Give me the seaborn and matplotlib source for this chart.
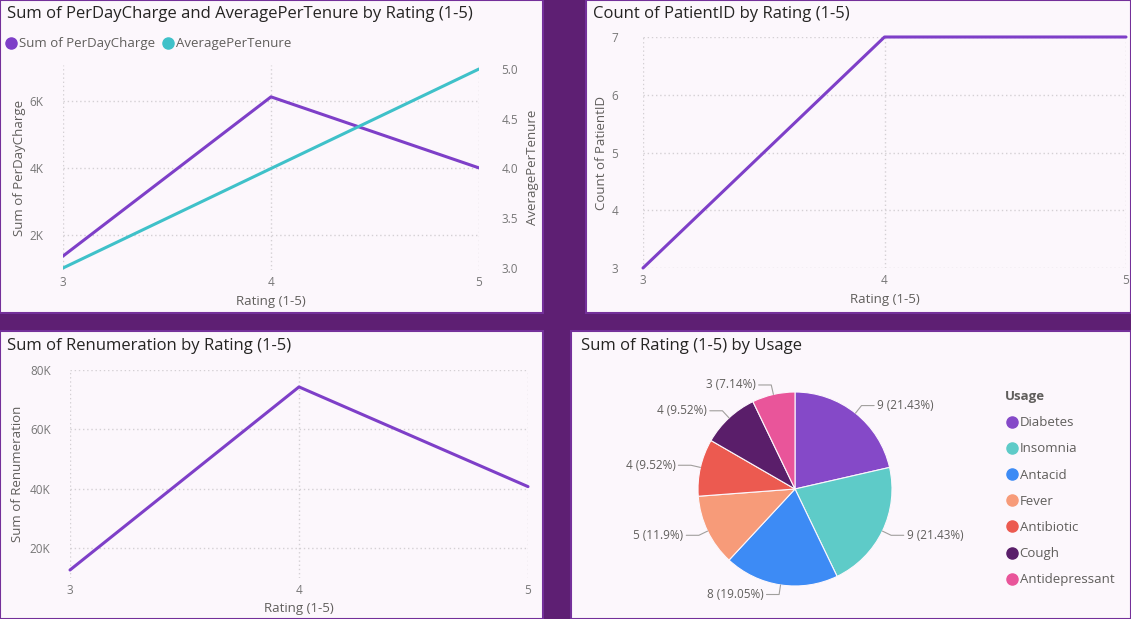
import matplotlib
matplotlib.use("Agg")
import matplotlib.pyplot as plt
import matplotlib.patches as mpatches
from matplotlib.lines import Line2D
from matplotlib.ticker import FuncFormatter
import numpy as np
import pandas as pd
import seaborn as sns

# ---- data ----
ratings = [3, 4, 5]
per_day_charge = [1370, 6120, 4000]
average_per_tenure = [3.0, 4.0, 5.0]
patient_count = [3, 7, 7]
renumeration = [12600, 74300, 40700]

usage = ["Diabetes", "Insomnia", "Antacid", "Fever", "Antibiotic", "Cough", "Antidepressant"]
rating_sum = [9, 9, 8, 5, 4, 4, 3]

# ---- style ----
W, H = 1131, 619
BG = "#5E1F73"
PANEL = "#FCF7FC"
EDGE = "#74309A"
PURPLE = "#7E3FC8"
TEAL = "#3FC1C9"
TITLE_C = "#252423"
LABEL_C = "#605E5C"
TICK_C = "#777777"
GRID_C = "#D4D0D4"
pie_colors = ["#8549C8", "#5ECBC8", "#3D8BF5", "#F79B79", "#EC5A50", "#5A1E6A", "#E9559A"]

sns.set_theme(style="white")
plt.rcParams["font.family"] = ["Open Sans", "DejaVu Sans"]

fig = plt.figure(figsize=(W / 100, H / 100), dpi=100, facecolor=BG)


def px_axes(left, top, right, bottom):
    ax = fig.add_axes([left / W, 1 - bottom / H, (right - left) / W, (bottom - top) / H])
    ax.set_facecolor("none")
    return ax


def panel(left, top, right, bottom):
    rect = mpatches.Rectangle((left / W, 1 - bottom / H), (right - left) / W, (bottom - top) / H,
                              transform=fig.transFigure, facecolor=PANEL, edgecolor=EDGE,
                              linewidth=1.5, zorder=-5)
    fig.add_artist(rect)


def fig_text(x, y, s, **kw):
    fig.text(x / W, 1 - y / H, s, **kw)


def style_axes(ax):
    sns.despine(ax=ax, left=True, bottom=True)
    ax.grid(True, linestyle=(0, (1, 2)), color=GRID_C, linewidth=1)
    ax.tick_params(length=0, labelsize=8.5, labelcolor=TICK_C)
    ax.tick_params(axis="x", pad=4)
    ax.set_xticks(ratings)
    ax.set_xlim(ratings[0], ratings[-1])
    ax.xaxis.label.set_color(LABEL_C)
    ax.yaxis.label.set_color(LABEL_C)


kfmt = FuncFormatter(lambda v, p: f"{v / 1000:.0f}K")

panel(0, 0, 543, 313)
panel(586, 0, 1131, 313)
panel(0, 331, 543, 619)
panel(571, 331, 1131, 619)

title_kw = dict(fontsize=12, color=TITLE_C, va="center", ha="left")
fig_text(7, 14, "Sum of PerDayCharge and AveragePerTenure by Rating (1-5)", **title_kw)
fig_text(593, 14, "Count of PatientID by Rating (1-5)", **title_kw)
fig_text(7, 346, "Sum of Renumeration by Rating (1-5)", **title_kw)
fig_text(581, 346, "Sum of Rating (1-5) by Usage", **title_kw)

# ---- panel 1: dual axis line ----
df1 = pd.DataFrame({"Rating (1-5)": ratings, "Sum of PerDayCharge": per_day_charge,
                    "AveragePerTenure": average_per_tenure})
ax1 = px_axes(63, 65, 479, 270)
sns.lineplot(data=df1, x="Rating (1-5)", y="Sum of PerDayCharge", ax=ax1, color=PURPLE,
             linewidth=2.2, zorder=4)
style_axes(ax1)
ax1.set_ylim(955, 7070)
ax1.set_yticks([2000, 4000, 6000])
ax1.yaxis.set_major_formatter(kfmt)
ax1.tick_params(axis="y", pad=14)
ax1.set_xlabel("Rating (1-5)", fontsize=9.5, labelpad=4.5)
ax1.set_ylabel("Sum of PerDayCharge", fontsize=9.5, labelpad=3)
ax1b = ax1.twinx()
ax1b.set_facecolor("none")
sns.lineplot(data=df1, x="Rating (1-5)", y="AveragePerTenure", ax=ax1b, color=TEAL,
             linewidth=2.2, zorder=3)
sns.despine(ax=ax1b, left=True, bottom=True, right=True)
ax1b.set_ylim(2.98, 5.04)
ax1b.set_yticks([3.0, 3.5, 4.0, 4.5, 5.0])
ax1b.yaxis.set_major_formatter(FuncFormatter(lambda v, p: f"{v:.1f}"))
ax1b.tick_params(length=0, labelsize=8.5, labelcolor=TICK_C, pad=16)
ax1b.grid(False)
ax1b.set_ylabel("AveragePerTenure", fontsize=9.5, color=LABEL_C, labelpad=6)
ax1b.set_xlim(ratings[0], ratings[-1])

leg_handles = [Line2D([], [], marker="o", linestyle="", markersize=8, color=PURPLE),
               Line2D([], [], marker="o", linestyle="", markersize=8, color=TEAL)]
fig.legend(leg_handles, ["Sum of PerDayCharge", "AveragePerTenure"], loc="center left",
           bbox_to_anchor=(3 / W, 1 - 44 / H), ncol=2, frameon=False, fontsize=9.5,
           labelcolor=LABEL_C, handletextpad=0.0, columnspacing=0.4, handlelength=1.2,
           borderaxespad=0, borderpad=0)

# ---- panel 2: patient count ----
df2 = pd.DataFrame({"Rating (1-5)": ratings, "Count of PatientID": patient_count})
ax2 = px_axes(643, 37, 1126, 268)
sns.lineplot(data=df2, x="Rating (1-5)", y="Count of PatientID", ax=ax2, color=PURPLE,
             linewidth=2.2, clip_on=False)
style_axes(ax2)
ax2.set_ylim(3, 7)
ax2.set_yticks([3, 4, 5, 6, 7])
ax2.tick_params(axis="y", pad=18)
ax2.set_xlabel("Rating (1-5)", fontsize=9.5, labelpad=5)
ax2.set_ylabel("Count of PatientID", fontsize=9.5, labelpad=2)

# ---- panel 3: renumeration ----
df3 = pd.DataFrame({"Rating (1-5)": ratings, "Sum of Renumeration": renumeration})
ax3 = px_axes(70, 370, 528, 578)
sns.lineplot(data=df3, x="Rating (1-5)", y="Sum of Renumeration", ax=ax3, color=PURPLE,
             linewidth=2.2, clip_on=False)
style_axes(ax3)
ax3.set_ylim(9900, 80000)
ax3.set_yticks([20000, 40000, 60000, 80000])
ax3.yaxis.set_major_formatter(kfmt)
ax3.tick_params(axis="y", pad=14)
ax3.set_xlabel("Rating (1-5)", fontsize=9.5, labelpad=4)
ax3.set_ylabel("Sum of Renumeration", fontsize=9.5, labelpad=4)

# ---- panel 4: pie ----
ax4 = px_axes(698, 392, 892, 586)
wedges, _ = ax4.pie(rating_sum, colors=pie_colors, startangle=90, counterclock=False,
                    wedgeprops=dict(edgecolor=PANEL, linewidth=0.8), radius=1.0)
ax4.set_xlim(-1, 1)
ax4.set_ylim(-1, 1)
total = sum(rating_sum)
for w, v in zip(wedges, rating_sum):
    ang = np.deg2rad((w.theta1 + w.theta2) / 2)
    cx, cy = np.cos(ang), np.sin(ang)
    side = 1 if cx >= 0 else -1
    p0 = (1.0 * cx, 1.0 * cy)
    p1 = (1.1 * cx, 1.1 * cy)
    p2 = (p1[0] + side * 0.13, p1[1])
    ax4.plot([p0[0], p1[0], p2[0]], [p0[1], p1[1], p2[1]], color="#A19F9D", linewidth=0.8,
             clip_on=False)
    ax4.text(p2[0] + side * 0.03, p2[1], f"{v} ({v / total * 100:.2f}%)".replace(".90%", ".9%"),
             ha="left" if side > 0 else "right", va="center", fontsize=8.5, color=LABEL_C)

pie_handles = [Line2D([], [], marker="o", linestyle="", markersize=8, color=c) for c in pie_colors]
leg = fig.legend(pie_handles, usage, loc="upper left", bbox_to_anchor=(1005 / W, 1 - 390 / H),
                 frameon=False, fontsize=9.5, labelcolor=LABEL_C, title="Usage",
                 title_fontproperties={"weight": "bold", "size": 9.5}, handletextpad=0.1,
                 handlelength=1.0, labelspacing=1.0, borderaxespad=0, borderpad=0,
                 alignment="left")
leg.get_title().set_color(LABEL_C)

fig.savefig("out.png", dpi=100, facecolor=BG)
